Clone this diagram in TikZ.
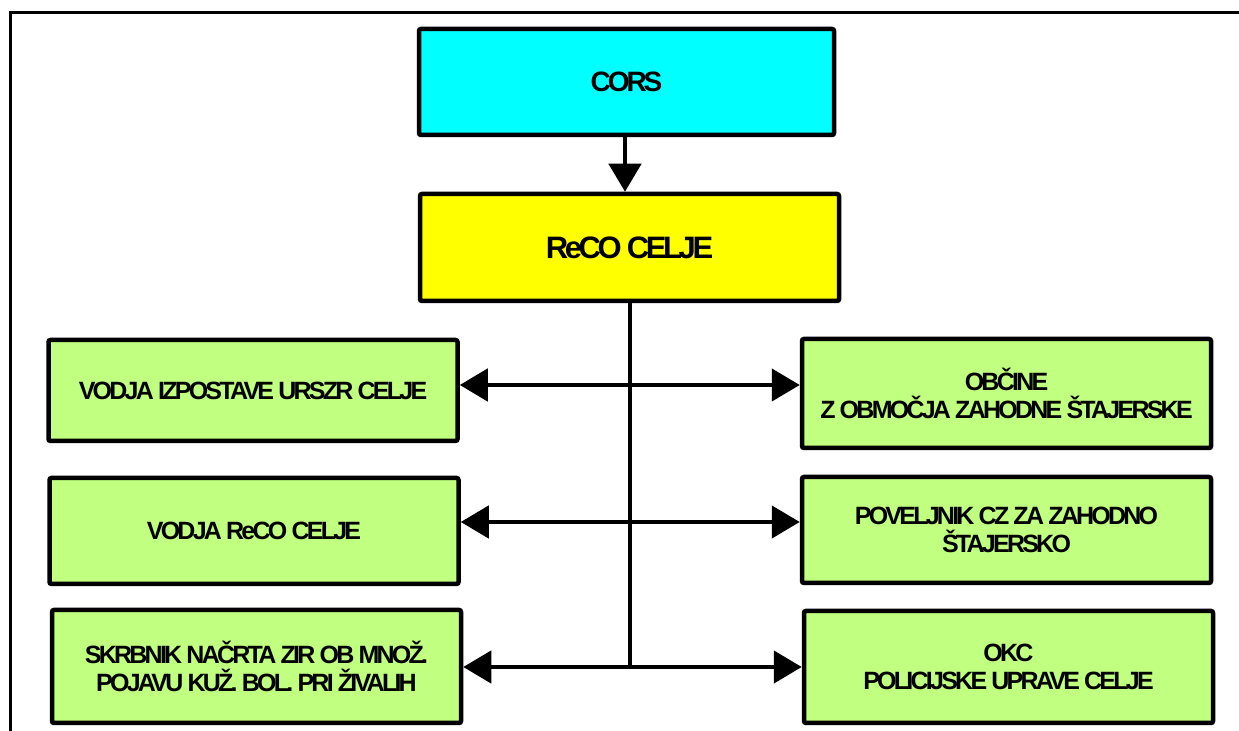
\documentclass[tikz,border=0pt]{standalone}
\usepackage{fontspec}
\setmainfont{Liberation Sans}[LetterSpace=-11]
\usetikzlibrary{arrows.meta}
\definecolor{boxgreen}{RGB}{192,255,128}
\definecolor{boxcyan}{RGB}{0,255,255}
\definecolor{boxyellow}{RGB}{255,255,0}
\tikzset{
    box/.style={draw, line width=2.25pt, rounded corners=1pt, align=center, inner sep=0pt,
        font=\bfseries\fontsize{12.5}{14}\selectfont},
    greenbox/.style={box, fill=boxgreen, minimum width=204.5pt},
    link/.style={line width=2.25pt, -{Triangle[length=14pt,width=16pt]}},
}

\begin{document}
\begin{tikzpicture}[x=0.5pt,y=-0.5pt]
            \useasboundingbox (0,0) rectangle (1239,731);
            % frame
            \draw[line width=1.5pt] (10,731) -- (10,13) -- (1239,13);

            \node[box, fill=boxcyan, minimum width=207.5pt, minimum height=53pt,
                font=\bfseries\fontsize{14}{16}\selectfont] (cors) at (626.5,82) {CORS};
            \node[box, fill=boxyellow, minimum width=209.5pt, minimum height=53.5pt,
                font=\bfseries\fontsize{15.5}{17}\selectfont] (reco) at (629.5,247.5) {ReCO CELJE};

            \node[greenbox, minimum height=50.5pt] (izpostava) at (253,390.5) {VODJA IZPOSTAVE URSZR CELJE};
            \node[greenbox, minimum height=53pt] (vodja) at (254,531) {VODJA ReCO CELJE};
            \node[greenbox, minimum height=56.5pt] (skrbnik) at (256.5,666.5) {SKRBNIK NAČRTA ZIR OB MNOŽ.\\ POJAVU KUŽ. BOL. PRI ŽIVALIH};
            \node[greenbox, minimum height=54.5pt] (obcine) at (1006.5,393.5) {OBČINE\\Z OBMOČJA ZAHODNE ŠTAJERSKE};
            \node[greenbox, minimum height=53pt] (poveljnik) at (1006.5,530) {POVELJNIK CZ ZA ZAHODNO\\ŠTAJERSKO};
            \node[greenbox, minimum height=56pt] (okc) at (1008.5,667) {OKC\\POLICIJSKE UPRAVE CELJE};

            % junctions on the spine
            \coordinate (j1) at (630,385);
            \coordinate (j2) at (630,522);
            \coordinate (j3) at (630,667);

            \draw[link] (cors.south -| 625,0) -- (reco.north -| 625,0);
            \draw[line width=2pt] (reco.south -| j3) -- (j3);

            \draw[link] (j1) -- (j1 -| izpostava.east);
            \draw[link] (j1) -- (j1 -| obcine.west);
            \draw[link] (j2) -- (j2 -| vodja.east);
            \draw[link] (j2) -- (j2 -| poveljnik.west);
            \draw[link] (j3) -- (j3 -| skrbnik.east);
            \draw[link] (j3) -- (j3 -| okc.west);

\end{tikzpicture}
\end{document}
